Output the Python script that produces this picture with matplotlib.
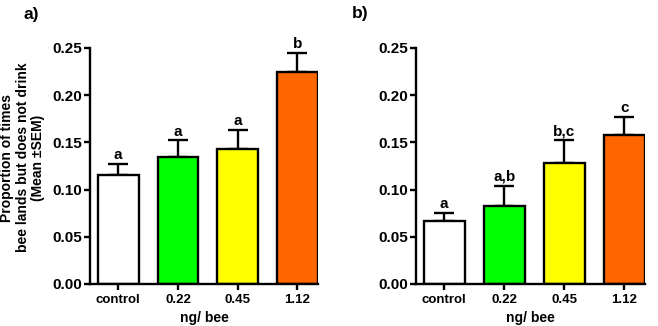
import matplotlib
matplotlib.use("Agg")
import matplotlib.pyplot as plt

plt.rcParams["font.family"] = ["Liberation Sans", "DejaVu Sans"]
plt.rcParams["font.weight"] = "bold"

doses = ["control", "0.22", "0.45", "1.12"]
colors = ["#ffffff", "#00ff00", "#ffff00", "#ff6600"]

mean_a = [0.115, 0.134, 0.143, 0.225]
sem_a = [0.012, 0.018, 0.020, 0.020]
letters_a = ["a", "a", "a", "b"]

mean_b = [0.067, 0.083, 0.128, 0.158]
sem_b = [0.008, 0.021, 0.024, 0.019]
letters_b = ["a", "a,b", "b,c", "c"]

fig = plt.figure(figsize=(6.58, 3.26), dpi=100)
ax1 = fig.add_axes([0.137, 0.129, 0.346, 0.724])
ax2 = fig.add_axes([0.632, 0.129, 0.348, 0.724])


def draw_panel(ax, means, sems, letters):
    x = range(len(doses))
    ax.bar(x, means, width=0.68, color=colors, edgecolor="black", linewidth=1.7, zorder=2)
    ax.errorbar(x, means, yerr=[[0] * len(sems), sems], fmt="none", ecolor="black",
                elinewidth=1.7, capsize=7.5, capthick=1.7, zorder=1)
    for i, (m, s, t) in enumerate(zip(means, sems, letters)):
        ax.text(i, m + s + 0.002, t, ha="center", va="bottom", fontsize=11, fontweight="bold")
    ax.set_xlim(-0.47, 3.34)
    ax.set_ylim(0, 0.25)
    ax.set_yticks([0, 0.05, 0.10, 0.15, 0.20, 0.25])
    ax.set_yticklabels(["0.00", "0.05", "0.10", "0.15", "0.20", "0.25"])
    ax.set_xticks(list(x))
    ax.set_xticklabels(doses)
    ax.spines["top"].set_visible(False)
    ax.spines["right"].set_visible(False)
    ax.spines["left"].set_linewidth(1.7)
    ax.spines["bottom"].set_linewidth(1.7)
    ax.tick_params(axis="both", length=4, width=1.7)
    ax.tick_params(axis="x", labelsize=9.5, pad=3)
    ax.tick_params(axis="y", labelsize=11, pad=1.5)
    for lab in ax.get_xticklabels() + ax.get_yticklabels():
        lab.set_fontweight("bold")
    ax.set_xlabel("ng/ bee", fontsize=10, fontweight="bold", labelpad=4)


draw_panel(ax1, mean_a, sem_a, letters_a)
draw_panel(ax2, mean_b, sem_b, letters_b)

ax1.set_ylabel("Proportion of times\nbee lands but does not drink\n(Mean \u00b1SEM)",
               fontsize=10, fontweight="bold", linespacing=1.1)
ax1.yaxis.set_label_coords(-0.2, 0.535)

fig.text(0.035, 0.955, "a)", fontsize=12.5, fontweight="bold", va="center")
fig.text(0.535, 0.96, "b)", fontsize=12.5, fontweight="bold", va="center")

fig.savefig("out.png", dpi=100)
